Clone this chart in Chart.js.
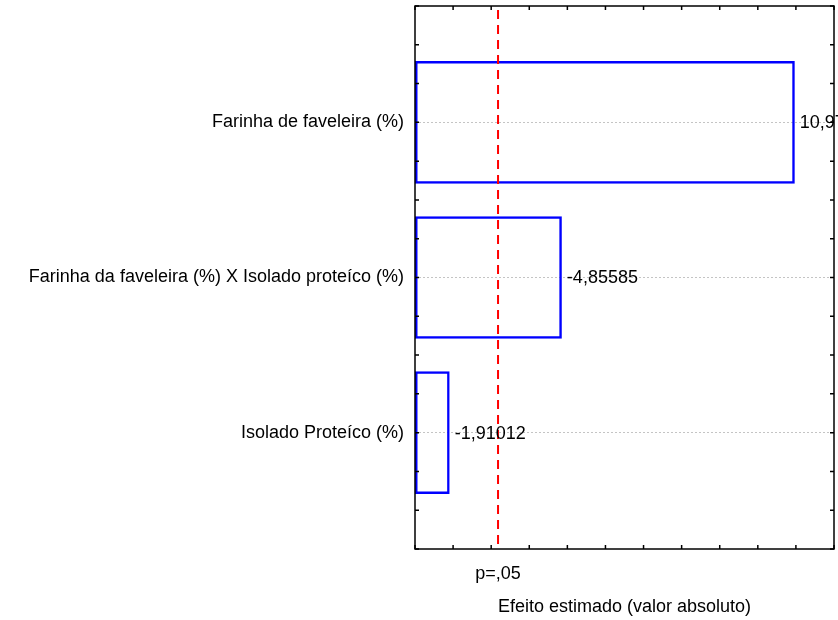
<!DOCTYPE html>
<html>
<head>
<meta charset="utf-8">
<script src="https://cdn.jsdelivr.net/npm/chart.js@4"></script>
<style>
  html, body { margin: 0; padding: 0; background: #fff; overflow: hidden; }
  #wrap { width: 838px; height: 620px; }
</style>
</head>
<body>
<div id="wrap"><canvas id="pareto"></canvas></div>
<script>
const categories = [
  'Farinha de faveleira (%)',
  'Farinha da faveleira (%) X Isolado proteíco (%)',
  'Isolado Proteíco (%)',
];
const effects = [10.9713, -4.85585, -1.91012];
const pCritical = 3.18;
const pLabel = 'p=,05';
const xMin = 1;
const xMax = 12;
const xTickValues = [1, 2, 3, 4, 5, 6, 7, 8, 9, 10, 11, 12];
const yMin = -0.75;
const yMax = 2.75;

const font = { family: "'Liberation Sans', Arial, sans-serif", size: 18 };

// frame, inside ticks, p line and value labels
const frame = {
  id: 'frame',
  afterDatasetsDraw(chart) {
    const { ctx, chartArea: a, scales } = chart;
    const x = scales.x, y = scales.y;
    ctx.save();

    ctx.strokeStyle = '#ff0000';
    ctx.lineWidth = 2;
    ctx.setLineDash([9, 6]);
    const px = x.getPixelForValue(pCritical);
    ctx.beginPath();
    ctx.moveTo(px, a.top + 4);
    ctx.lineTo(px, a.bottom);
    ctx.stroke();
    ctx.setLineDash([]);

    ctx.strokeStyle = '#000';
    ctx.lineWidth = 1.5;
    ctx.strokeRect(a.left, a.top, a.right - a.left, a.bottom - a.top);

    ctx.beginPath();
    xTickValues.forEach(v => {
      const p = x.getPixelForValue(v);
      ctx.moveTo(p, a.top); ctx.lineTo(p, a.top + 4);
      ctx.moveTo(p, a.bottom); ctx.lineTo(p, a.bottom - 4);
    });
    for (let v = yMin; v <= yMax; v += 0.25) {
      const p = y.getPixelForValue(v);
      ctx.moveTo(a.left, p); ctx.lineTo(a.left + 4, p);
      ctx.moveTo(a.right, p); ctx.lineTo(a.right - 4, p);
    }
    ctx.stroke();

    ctx.fillStyle = '#000';
    ctx.font = font.size + 'px ' + font.family;
    ctx.textAlign = 'left';
    ctx.textBaseline = 'middle';
    effects.forEach((e, i) => {
      const bx = x.getPixelForValue(Math.abs(e));
      const by = y.getPixelForValue(i);
      ctx.fillText(String(e).replace('.', ','), bx + 5, by + 1);
    });
    ctx.restore();
  }
};

new Chart(document.getElementById('pareto'), {
  type: 'bar',
  data: {
    datasets: [{
      data: effects.map((e, i) => ({ x: Math.abs(e), y: i })),
      base: xMin,
      backgroundColor: 'rgba(255,255,255,0)',
      borderColor: '#0000ff',
      borderWidth: 2.5,
      borderSkipped: false,
      barPercentage: 0.79,
      categoryPercentage: 1,
    }],
  },
  options: {
    indexAxis: 'y',
    responsive: true,
    maintainAspectRatio: false,
    animation: false,
    layout: { padding: { left: 0, right: 4, top: 6, bottom: 0 } },
    plugins: {
      legend: { display: false },
      tooltip: { enabled: false },
    },
    scales: {
      x: {
        type: 'linear',
        min: xMin,
        max: xMax,
        grid: { display: false },
        border: { display: false },
        afterBuildTicks: (scale) => { scale.ticks = [{ value: pCritical }]; },
        afterFit: (scale) => {
          scale.height = 71;
          scale.paddingLeft = 0;
          scale.paddingRight = 0;
        },
        ticks: {
          callback: () => pLabel,
          color: '#000',
          font,
          padding: 6,
          maxRotation: 0,
        },
        title: {
          display: true,
          text: 'Efeito estimado (valor absoluto)',
          color: '#000',
          font,
          padding: { top: 4, bottom: 2 },
        },
      },
      y: {
        type: 'linear',
        min: yMin,
        max: yMax,
        reverse: true,
        offset: false,
        afterBuildTicks: (scale) => {
          scale.ticks = categories.map((c, i) => ({ value: i }));
        },
        afterFit: (scale) => {
          scale.width = 415;
          scale.paddingTop = 0;
          scale.paddingBottom = 0;
        },
        grid: {
          offset: false,
          drawTicks: false,
          color: '#c4c4c4',
          lineWidth: 1,
        },
        border: { display: false, dash: [2, 2] },
        ticks: {
          autoSkip: false,
          color: '#000',
          font,
          padding: 11,
          callback: (v) => categories[v],
        },
      },
    },
  },
  plugins: [frame],
});
</script>
</body>
</html>
